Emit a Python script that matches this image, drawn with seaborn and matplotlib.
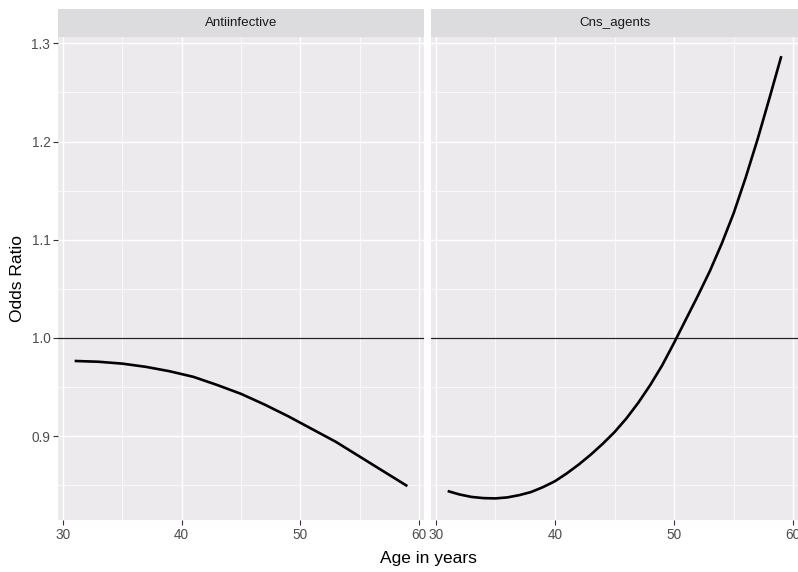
import numpy as np
import pandas as pd
import matplotlib
matplotlib.use("Agg")
import matplotlib.pyplot as plt
import seaborn as sns

sns.set_theme(style="white")
plt.rcParams['font.family'] = ['Liberation Sans', 'DejaVu Sans']

ages_anti = [31, 33, 35, 37, 39, 41, 43, 45, 47, 49, 51, 53, 55, 57, 59]
antiinfective = [0.9765, 0.9757, 0.9738, 0.9705, 0.966, 0.9603, 0.952, 0.943,
                 0.932, 0.920, 0.907, 0.894, 0.879, 0.864, 0.849]
ages_cns = list(range(31, 60))
cns_agents = [0.844, 0.8405, 0.838, 0.8368, 0.8365, 0.8375, 0.8398, 0.843, 0.848,
              0.854, 0.862, 0.871, 0.881, 0.892, 0.904, 0.918, 0.934, 0.952,
              0.972, 0.995, 1.019, 1.043, 1.068, 1.096, 1.127, 1.163, 1.202,
              1.244, 1.287]
panels = ["Antiinfective", "Cns_agents"]
x_ticks = [30, 40, 50, 60]
x_minor = [35, 45, 55]
y_ticks = [0.9, 1.0, 1.1, 1.2, 1.3]
y_minor = [0.85, 0.95, 1.05, 1.15, 1.25]

df = pd.DataFrame({
    "age": ages_anti + ages_cns,
    "odds": antiinfective + cns_agents,
    "panel": [panels[0]] * len(ages_anti) + [panels[1]] * len(ages_cns),
})

W, H = 798, 572
fig = plt.figure(figsize=(W / 100, H / 100), dpi=100)

panel_bg = "#EDEAEE"
strip_bg = "#DCDBDE"
boxes = [(58, 424), (431, 798)]
top, bottom, strip_top = 37, 520, 9

xlim = (29.6, 60.4)
ylim = (0.8145, 1.3065)

for i, (name, (x0, x1)) in enumerate(zip(panels, boxes)):
    ax = fig.add_axes([x0 / W, 1 - bottom / H, (x1 - x0) / W, (bottom - top) / H])
    ax.set_facecolor(panel_bg)
    for v in x_minor:
        ax.axvline(v, color="white", lw=0.5, zorder=0)
    for v in y_minor:
        ax.axhline(v, color="white", lw=0.5, zorder=0)
    for v in x_ticks:
        ax.axvline(v, color="white", lw=1.0, zorder=0)
    for v in y_ticks:
        ax.axhline(v, color="white", lw=1.0, zorder=0)
    ax.axhline(1.0, color="#222222", lw=0.9, zorder=1)
    sub = df[df["panel"] == name]
    sns.lineplot(data=sub, x="age", y="odds", ax=ax, color="black", lw=1.9,
                 legend=False, zorder=2, solid_capstyle="butt",
                 solid_joinstyle="round")
    ax.set_xlim(*xlim)
    ax.set_ylim(*ylim)
    ax.set_xticks(x_ticks)
    ax.set_xticklabels([str(t) for t in x_ticks])
    ax.set_yticks(y_ticks)
    ax.set_yticklabels([f"{t:.1f}" for t in y_ticks])
    for s in ax.spines.values():
        s.set_visible(False)
    ax.tick_params(axis="both", length=3.5, width=0.8, color="#333333",
                   labelcolor="#4D4D4D", labelsize=9.8, pad=2, direction="out")
    ax.tick_params(axis="both", which="both", bottom=True, left=(i == 0))
    if i != 0:
        ax.tick_params(axis="y", labelleft=False, left=False)
    ax.set_xlabel("")
    ax.set_ylabel("")
    ax.grid(False)
    # strip
    sax = fig.add_axes([x0 / W, 1 - top / H, (x1 - x0) / W, (top - strip_top) / H])
    sax.set_facecolor(strip_bg)
    sax.set_xticks([])
    sax.set_yticks([])
    for s in sax.spines.values():
        s.set_visible(False)
    sax.text(0.5, 0.5, name, ha="center", va="center", fontsize=9.6,
             color="#1A1A1A", transform=sax.transAxes)

fig.text((58 + 798) / 2 / W, 1 - 559 / H, "Age in years", ha="center",
         va="center", fontsize=12.5, color="black")
fig.text(18 / W, 1 - (top + bottom) / 2 / H, "Odds Ratio", ha="center",
         va="center", rotation=90, fontsize=12.5, color="black")

fig.savefig("out.png", dpi=100, facecolor="white")
